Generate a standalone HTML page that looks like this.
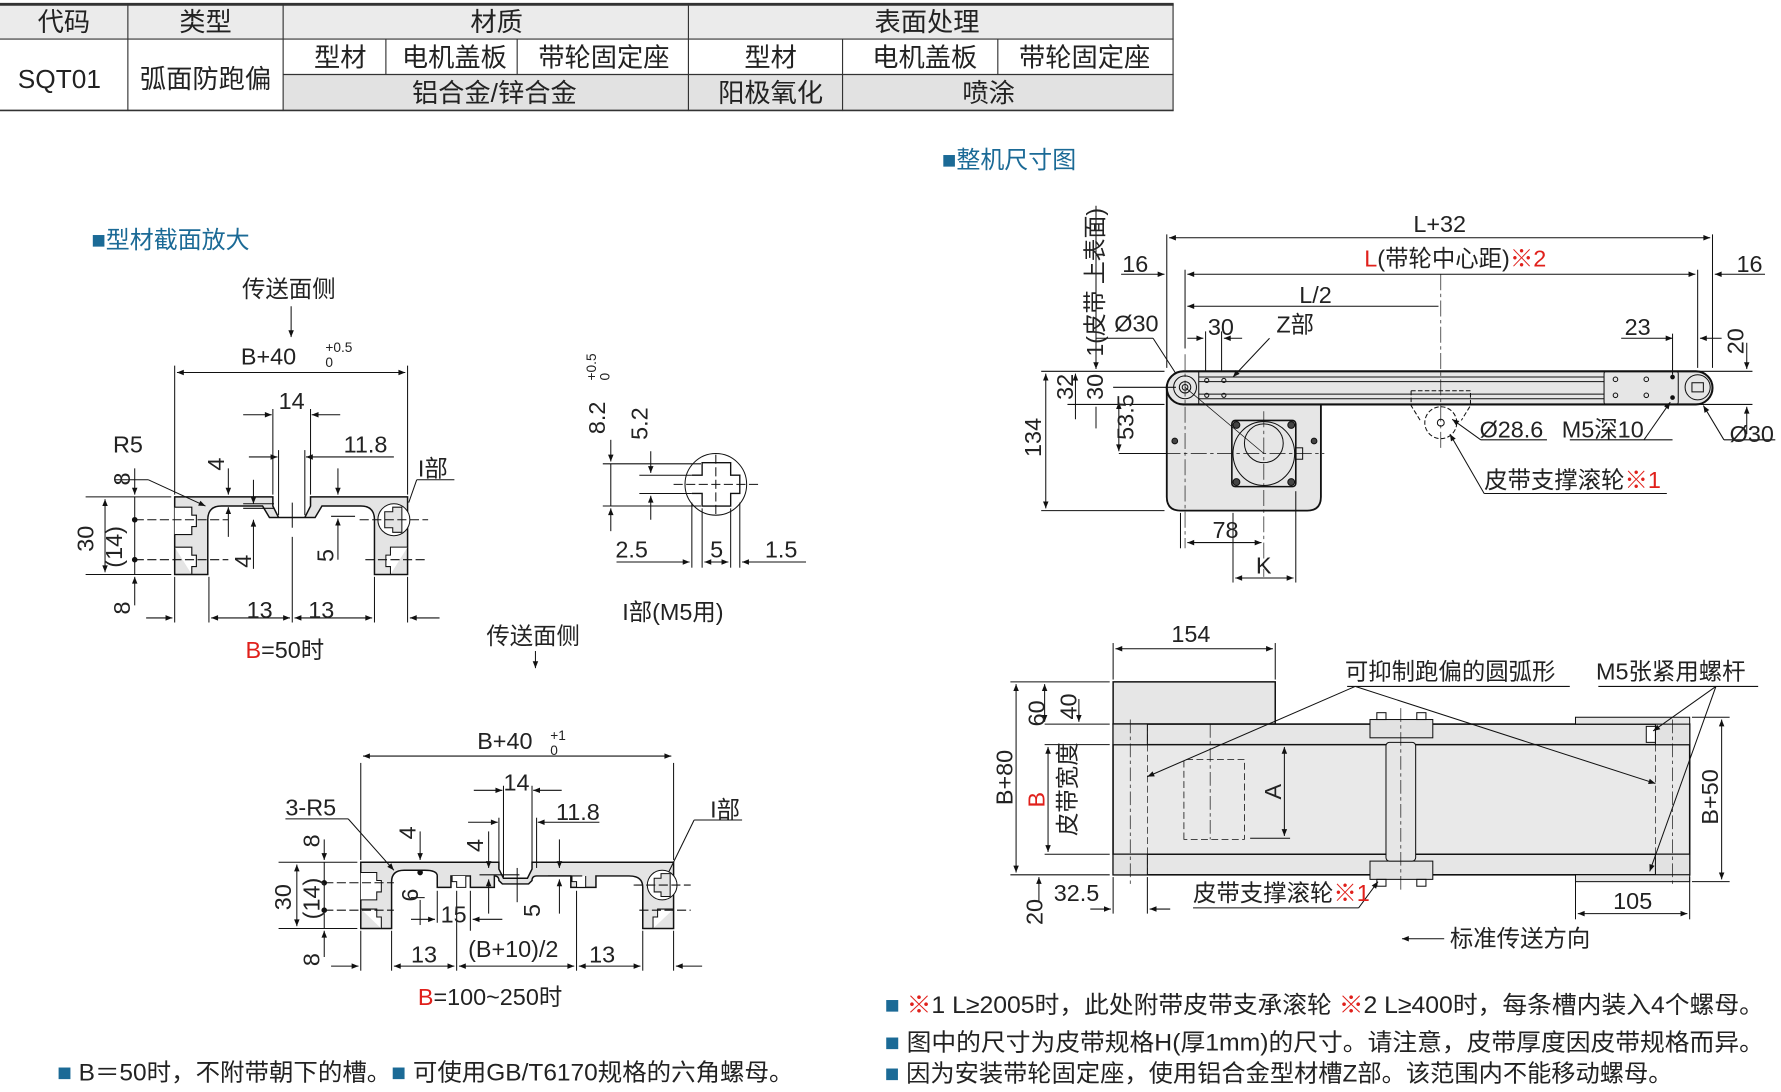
<!DOCTYPE html>
<html><head><meta charset="utf-8"><style>
html,body{margin:0;padding:0;background:#fff;}
svg{display:block;}
text{font-family:"Liberation Sans","Noto Sans CJK SC",sans-serif;fill:#222;}
</style></head><body>
<svg width="1781" height="1092" viewBox="0 0 1560 956" xmlns="http://www.w3.org/2000/svg">
<defs>
<marker id="a" viewBox="0 0 10 10" refX="10" refY="5" markerWidth="9" markerHeight="6" orient="auto-start-reverse" markerUnits="userSpaceOnUse"><path d="M0,1 L10,5 L0,9 Z" fill="#111"/></marker>
</defs>
<!-- TABLE -->
<rect x="0" y="3" width="1028" height="31" fill="#ebebeb"/>
<rect x="248" y="65" width="780" height="31" fill="#e2e2e2"/>
<g stroke="#333" stroke-width="1" fill="none">
<line x1="0" y1="3.5" x2="1028" y2="3.5" stroke-width="2.5"/>
<line x1="0" y1="34" x2="1028" y2="34"/>
<line x1="248" y1="65" x2="1028" y2="65"/>
<line x1="0" y1="96.5" x2="1028" y2="96.5" stroke-width="1.5"/>
<line x1="1027.5" y1="3" x2="1027.5" y2="97"/>
<line x1="112" y1="3" x2="112" y2="97"/><line x1="248" y1="3" x2="248" y2="97"/>
<line x1="603" y1="3" x2="603" y2="97"/>
<line x1="338" y1="34" x2="338" y2="65"/><line x1="453" y1="34" x2="453" y2="65"/>
<line x1="738" y1="34" x2="738" y2="97"/><line x1="874" y1="34" x2="874" y2="65"/>
</g>
<g font-size="23" text-anchor="middle">
<text x="56" y="27">代码</text><text x="180" y="27">类型</text><text x="435" y="27">材质</text><text x="812" y="27">表面处理</text>
<text x="52" y="77">SQT01</text><text x="180" y="77">弧面防跑偏</text>
<text x="298" y="58">型材</text><text x="398" y="58">电机盖板</text><text x="529" y="58">带轮固定座</text>
<text x="675" y="58">型材</text><text x="810" y="58">电机盖板</text><text x="950" y="58">带轮固定座</text>
<text x="433" y="89">铝合金/锌合金</text><text x="675" y="89">阳极氧化</text><text x="866" y="89">喷涂</text>
</g>
<!-- headings -->
<text x="80" y="217" font-size="21" style="fill:#1b6a96">■型材截面放大</text>
<text x="825" y="147" font-size="21" style="fill:#1b6a96">■整机尺寸图</text>

<g stroke="#111" stroke-width="0.9" fill="none">
<!-- LEFT PROFILE B=50 -->
<path d="M153,435 H239 V443 L244,453 H267 L272,443 V435 H357 V503 H328 V455 Q328,443 316,443 H282 L276,453 H236 L230,443 H194 Q182,443 182,455 V503 H153 Z" fill="#e4e4e4" stroke-width="1.3"/>
<path d="M153,444 H168 V451 H172 V461 H168 V468 H153 M153,479 H168 V486 H172 V496 H168 V503" fill="#fff" stroke-width="1"/>
<path d="M357,479 H342 V486 H338 V496 H342 V503" fill="#fff"/>
<circle cx="345" cy="455" r="14" fill="#fff"/>
<path d="M337,448 H344 V444 H352 V466 H344 V462 H337 Z" fill="#e4e4e4"/>
<!-- left dims -->
<line x1="153" y1="320" x2="153" y2="433"/><line x1="357" y1="320" x2="357" y2="433"/>
<line x1="155" y1="326" x2="355" y2="326" marker-start="url(#a)" marker-end="url(#a)"/>
<line x1="239" y1="358" x2="239" y2="433"/><line x1="272" y1="358" x2="272" y2="433"/>
<line x1="213" y1="363" x2="238" y2="363" marker-end="url(#a)"/><line x1="298" y1="363" x2="273" y2="363" marker-end="url(#a)"/>
<line x1="244" y1="394" x2="244" y2="451"/><line x1="267" y1="394" x2="267" y2="451"/>
<line x1="218" y1="400" x2="243" y2="400" marker-end="url(#a)"/><line x1="345" y1="400" x2="268" y2="400" marker-end="url(#a)"/>
<line x1="100" y1="420" x2="130" y2="420"/><line x1="130" y1="420" x2="180" y2="443" marker-end="url(#a)"/>
<line x1="75" y1="435" x2="150" y2="435"/><line x1="75" y1="503" x2="150" y2="503"/>
<line x1="92" y1="437" x2="92" y2="501" marker-start="url(#a)" marker-end="url(#a)"/>
<line x1="118" y1="410" x2="118" y2="433" marker-end="url(#a)"/><line x1="118" y1="530" x2="118" y2="505" marker-end="url(#a)"/>
<line x1="118" y1="435" x2="118" y2="503"/>
<circle cx="118" cy="455" r="2" fill="#111"/><circle cx="118" cy="490" r="2" fill="#111"/>
<line x1="118" y1="455" x2="200" y2="455" stroke-dasharray="8,3"/><line x1="118" y1="490" x2="200" y2="490" stroke-dasharray="8,3"/>
<line x1="315" y1="455" x2="375" y2="455" stroke-dasharray="8,3"/><line x1="320" y1="490" x2="375" y2="490" stroke-dasharray="8,3"/>
<line x1="200" y1="410" x2="200" y2="433" marker-end="url(#a)"/><line x1="200" y1="470" x2="200" y2="444" marker-end="url(#a)"/>
<line x1="222" y1="420" x2="222" y2="441" marker-end="url(#a)"/><line x1="222" y1="498" x2="222" y2="455" marker-end="url(#a)"/>
<line x1="213" y1="441" x2="240" y2="441"/><line x1="213" y1="445" x2="240" y2="445"/>
<line x1="296" y1="410" x2="296" y2="433" marker-end="url(#a)"/><line x1="296" y1="490" x2="296" y2="454" marker-end="url(#a)"/>
<line x1="290" y1="452" x2="311" y2="452"/>
<line x1="256" y1="440" x2="256" y2="462"/>
<line x1="358" y1="440" x2="365" y2="420"/><line x1="365" y1="420" x2="398" y2="420"/>
<line x1="183" y1="505" x2="183" y2="545"/><line x1="153" y1="505" x2="153" y2="545"/><line x1="256" y1="470" x2="256" y2="545"/><line x1="328" y1="505" x2="328" y2="545"/><line x1="357" y1="505" x2="357" y2="545"/>
<line x1="128" y1="541" x2="151" y2="541" marker-end="url(#a)"/><line x1="185" y1="541" x2="254" y2="541" marker-start="url(#a)" marker-end="url(#a)"/>
<line x1="258" y1="541" x2="326" y2="541" marker-start="url(#a)" marker-end="url(#a)"/><line x1="385" y1="541" x2="359" y2="541" marker-end="url(#a)"/>
<line x1="255" y1="268" x2="255" y2="295" marker-end="url(#a)"/>
<!-- I detail -->
<circle cx="627" cy="424" r="27"/>
<path d="M606,416 H615 V405 H640 V416 H648 V432 H640 V443 H615 V432 H606" fill="none" stroke-width="1.2"/>
<line x1="590" y1="424" x2="665" y2="424" stroke-dasharray="8,3"/>
<line x1="627" y1="398" x2="627" y2="450" stroke-dasharray="8,3"/>
<line x1="528" y1="406" x2="614" y2="406"/><line x1="528" y1="443" x2="614" y2="443"/><line x1="560" y1="416" x2="606" y2="416"/><line x1="560" y1="432" x2="606" y2="432"/>
<line x1="535" y1="385" x2="535" y2="404" marker-end="url(#a)"/><line x1="535" y1="465" x2="535" y2="445" marker-end="url(#a)"/><line x1="535" y1="406" x2="535" y2="443"/>
<line x1="570" y1="395" x2="570" y2="414" marker-end="url(#a)"/><line x1="570" y1="455" x2="570" y2="434" marker-end="url(#a)"/>
<line x1="606" y1="440" x2="606" y2="497"/><line x1="615" y1="445" x2="615" y2="497"/><line x1="640" y1="445" x2="640" y2="497"/><line x1="648" y1="440" x2="648" y2="497"/>
<line x1="540" y1="492" x2="604" y2="492" marker-end="url(#a)"/><line x1="617" y1="492" x2="638" y2="492" marker-start="url(#a)" marker-end="url(#a)"/><line x1="706" y1="492" x2="650" y2="492" marker-end="url(#a)"/>

<!-- BOTTOM PROFILE -->
<path d="M316,755 H437 V761 L441,769 H462 L466,761 V755 H590 V813 H563 V777 Q563,767 551,767 H522 V777 H500 V767 H470 Q466,767 466,771 L463,774 H440 L437,771 Q437,767 433,767 V777 H412 V767 H395 V777 H383 V767 Q383,762 372,762 H354 Q343,762 343,772 V813 H316 Z" fill="#e4e4e4" stroke-width="1.3"/>
<path d="M316,764 H330 V771 H334 V781 H330 V788 H316 M316,796 H330 V803 H334 V813" fill="#fff"/>
<path d="M590,796 H576 V803 H572 V813" fill="#fff"/>
<circle cx="580" cy="775" r="13" fill="#fff"/>
<path d="M573,769 H579 V765 H587 V785 H579 V781 H573 Z" fill="#e4e4e4"/>
<path d="M396,767 V772 H400 V777 H408 V767" fill="#fff"/><path d="M501,767 V772 H505 V777 H513 V767" fill="#fff"/>
<line x1="316" y1="668" x2="316" y2="753"/><line x1="590" y1="668" x2="590" y2="753"/>
<line x1="318" y1="662" x2="588" y2="662" marker-start="url(#a)" marker-end="url(#a)"/>
<line x1="441" y1="688" x2="441" y2="768"/><line x1="466" y1="688" x2="466" y2="760"/>
<line x1="415" y1="692" x2="440" y2="692" marker-end="url(#a)"/><line x1="492" y1="692" x2="467" y2="692" marker-end="url(#a)"/>
<line x1="437" y1="716" x2="437" y2="760"/><line x1="470" y1="716" x2="470" y2="760"/>
<line x1="410" y1="720" x2="436" y2="720" marker-end="url(#a)"/><line x1="525" y1="720" x2="471" y2="720" marker-end="url(#a)"/>
<line x1="250" y1="717" x2="305" y2="717"/><line x1="305" y1="717" x2="345" y2="762" marker-end="url(#a)"/>
<line x1="244" y1="755" x2="313" y2="755"/><line x1="244" y1="813" x2="313" y2="813"/>
<line x1="260" y1="757" x2="260" y2="811" marker-start="url(#a)" marker-end="url(#a)"/>
<line x1="284" y1="735" x2="284" y2="753" marker-end="url(#a)"/><line x1="284" y1="838" x2="284" y2="815" marker-end="url(#a)"/><line x1="284" y1="755" x2="284" y2="813"/>
<circle cx="284" cy="773" r="2" fill="#111"/><circle cx="284" cy="797" r="2" fill="#111"/>
<line x1="284" y1="773" x2="345" y2="773" stroke-dasharray="8,3"/><line x1="284" y1="797" x2="345" y2="797" stroke-dasharray="8,3"/>
<line x1="560" y1="797" x2="605" y2="797" stroke-dasharray="8,3"/><line x1="555" y1="775" x2="605" y2="775" stroke-dasharray="8,3"/>
<circle cx="368" cy="764" r="2" fill="#111"/>
<line x1="368" y1="728" x2="368" y2="753" marker-end="url(#a)"/><line x1="368" y1="810" x2="368" y2="788"/>
<line x1="360" y1="786" x2="372" y2="786"/>
<line x1="428" y1="728" x2="428" y2="760" marker-end="url(#a)"/><line x1="428" y1="800" x2="428" y2="770" marker-end="url(#a)"/>
<line x1="420" y1="766" x2="455" y2="766"/>
<line x1="490" y1="735" x2="490" y2="760" marker-end="url(#a)"/><line x1="490" y1="800" x2="490" y2="770" marker-end="url(#a)"/>
<line x1="480" y1="767" x2="510" y2="767"/>
<line x1="453" y1="760" x2="453" y2="790"/>
<line x1="383" y1="780" x2="383" y2="808"/><line x1="412" y1="780" x2="412" y2="815"/>
<line x1="360" y1="805" x2="381" y2="805" marker-end="url(#a)"/><line x1="440" y1="805" x2="414" y2="805" marker-end="url(#a)"/>
<line x1="586" y1="763" x2="608" y2="718"/><line x1="608" y1="718" x2="650" y2="718"/>
<line x1="343" y1="815" x2="343" y2="850"/><line x1="316" y1="815" x2="316" y2="850"/><line x1="400" y1="780" x2="400" y2="850"/><line x1="505" y1="780" x2="505" y2="850"/><line x1="563" y1="815" x2="563" y2="850"/><line x1="590" y1="815" x2="590" y2="850"/>
<line x1="290" y1="846" x2="314" y2="846" marker-end="url(#a)"/><line x1="345" y1="846" x2="398" y2="846" marker-start="url(#a)" marker-end="url(#a)"/>
<line x1="402" y1="846" x2="503" y2="846" marker-start="url(#a)" marker-end="url(#a)"/><line x1="507" y1="846" x2="561" y2="846" marker-start="url(#a)" marker-end="url(#a)"/><line x1="615" y1="846" x2="592" y2="846" marker-end="url(#a)"/>
<line x1="469" y1="570" x2="469" y2="585" marker-end="url(#a)"/>

<!-- SIDE VIEW -->
<path d="M1036,338 H1157 V435 Q1157,447 1145,447 H1034 Q1022,447 1022,435 V338 Z" fill="#e6e6e6" stroke-width="1.6"/>
<rect x="1022" y="325" width="478" height="29" rx="14.5" fill="#e6e6e6" stroke-width="1.8"/>
<line x1="1050" y1="330" x2="1405" y2="330"/><line x1="1050" y1="334" x2="1405" y2="334"/><line x1="1050" y1="345" x2="1405" y2="345"/><line x1="1050" y1="349" x2="1405" y2="349"/>
<line x1="1050" y1="325" x2="1050" y2="354"/>
<rect x="1405" y="325" width="65" height="29" rx="2"/>
<circle cx="1038" cy="339" r="10"/><circle cx="1038" cy="339" r="5"/><circle cx="1038" cy="339" r="2.5"/>
<circle cx="1487" cy="339" r="11"/><rect x="1482" y="335" width="10" height="8"/>
<circle cx="1415" cy="332" r="2"/><circle cx="1415" cy="346" r="2"/><circle cx="1442" cy="332" r="2"/><circle cx="1442" cy="346" r="2"/>
<circle cx="1465" cy="330" r="1.6" fill="#111"/><circle cx="1465" cy="348" r="1.6" fill="#111"/>
<circle cx="1057" cy="333" r="1.8"/><circle cx="1057" cy="346" r="1.8"/><circle cx="1072" cy="333" r="1.8"/><circle cx="1072" cy="346" r="1.8"/>
<rect x="1079" y="368" width="56" height="58" rx="3" stroke-width="1.4"/>
<ellipse cx="1107" cy="397" rx="27" ry="28"/><ellipse cx="1107" cy="388" rx="17" ry="17"/>
<circle cx="1083" cy="372" r="3" fill="#444"/><circle cx="1131" cy="372" r="3" fill="#444"/><circle cx="1083" cy="422" r="3" fill="#444"/><circle cx="1131" cy="422" r="3" fill="#444"/>
<rect x="1135" y="392" width="6" height="10"/>
<circle cx="1029" cy="386" r="2.5" fill="#444"/><circle cx="1151" cy="386" r="2.5" fill="#444"/>
<path d="M1236,342 H1288 V355 L1280,368 M1236,342 V355 L1244,368" stroke-dasharray="4,2"/>
<circle cx="1262" cy="370" r="14" stroke-dasharray="4,2"/><circle cx="1262" cy="370" r="3"/>
<line x1="1262" y1="240" x2="1262" y2="395" stroke-width="0.6" stroke-dasharray="14,3,3,3"/>
<line x1="1038" y1="310" x2="1038" y2="480" stroke-width="0.6" stroke-dasharray="14,3,3,3"/>
<line x1="1107" y1="360" x2="1107" y2="505" stroke-width="0.6" stroke-dasharray="14,3,3,3"/>
<line x1="1020" y1="397" x2="1160" y2="397" stroke-width="0.6" stroke-dasharray="14,3,3,3"/>
<line x1="1038" y1="339" x2="1107" y2="397" stroke-width="0.6"/>
<!-- side dims -->
<line x1="1022" y1="205" x2="1022" y2="322"/><line x1="1500" y1="205" x2="1500" y2="322"/>
<line x1="1024" y1="208" x2="1498" y2="208" marker-start="url(#a)" marker-end="url(#a)"/>
<line x1="1038" y1="236" x2="1038" y2="305"/><line x1="1487" y1="236" x2="1487" y2="322"/>
<line x1="1040" y1="240" x2="1485" y2="240" marker-start="url(#a)" marker-end="url(#a)"/>
<line x1="982" y1="240" x2="1020" y2="240" marker-end="url(#a)"/><line x1="1546" y1="240" x2="1502" y2="240" marker-end="url(#a)"/>
<line x1="1040" y1="268" x2="1260" y2="268" marker-start="url(#a)"/>
<line x1="1056" y1="290" x2="1056" y2="325"/><line x1="1070" y1="290" x2="1070" y2="325"/>
<line x1="1040" y1="296" x2="1054" y2="296" marker-end="url(#a)"/><line x1="1088" y1="296" x2="1072" y2="296" marker-end="url(#a)"/>
<line x1="1112" y1="296" x2="1080" y2="330" marker-end="url(#a)"/>
<line x1="1010" y1="296" x2="1030" y2="327"/>
<line x1="960" y1="296" x2="1010" y2="296"/>
<line x1="1420" y1="296" x2="1465" y2="296" marker-end="url(#a)"/><line x1="1465" y1="292" x2="1465" y2="328"/><line x1="1508" y1="296" x2="1489" y2="296" marker-end="url(#a)"/>
<line x1="1476" y1="325" x2="1535" y2="325"/><line x1="1476" y1="354" x2="1535" y2="354"/>
<line x1="1530" y1="300" x2="1530" y2="323" marker-end="url(#a)"/><line x1="1530" y1="380" x2="1530" y2="356" marker-end="url(#a)"/>
<line x1="912" y1="325" x2="1020" y2="325"/><line x1="912" y1="447" x2="1020" y2="447"/>
<line x1="916" y1="327" x2="916" y2="445" marker-start="url(#a)" marker-end="url(#a)"/>
<line x1="942" y1="327" x2="942" y2="367" marker-start="url(#a)"/><line x1="935" y1="354" x2="1020" y2="354"/>
<line x1="960" y1="180" x2="960" y2="323" marker-end="url(#a)"/><line x1="960" y1="356" x2="960" y2="375"/>
<line x1="975" y1="339" x2="1030" y2="339"/><line x1="980" y1="397" x2="1022" y2="397"/>
<line x1="980" y1="352" x2="980" y2="395" marker-start="url(#a)" marker-end="url(#a)"/>
<line x1="1034" y1="449" x2="1034" y2="480"/>
<line x1="1040" y1="475" x2="1105" y2="475" marker-start="url(#a)" marker-end="url(#a)"/>
<line x1="1080" y1="449" x2="1080" y2="510"/><line x1="1135" y1="430" x2="1135" y2="510"/>
<line x1="1082" y1="506" x2="1133" y2="506" marker-start="url(#a)" marker-end="url(#a)"/>
<line x1="1297" y1="385" x2="1272" y2="367" marker-end="url(#a)"/><line x1="1297" y1="385" x2="1355" y2="385"/>
<line x1="1375" y1="385" x2="1465" y2="385"/><line x1="1440" y1="385" x2="1463" y2="352" marker-end="url(#a)"/>
<line x1="1510" y1="385" x2="1555" y2="385"/><line x1="1510" y1="385" x2="1492" y2="355" marker-end="url(#a)"/>
<line x1="1300" y1="432" x2="1460" y2="432"/><line x1="1300" y1="432" x2="1270" y2="380" marker-end="url(#a)"/>

<!-- TOP VIEW -->
<rect x="975" y="597" width="142" height="37" fill="#e6e6e6" stroke-width="1.3"/>
<rect x="975" y="634" width="505" height="132" fill="#e6e6e6" stroke-width="1.4"/>
<rect x="975" y="652" width="505" height="96" fill="#e9e9e9" stroke-width="1.3"/>
<rect x="975" y="634" width="30" height="18" fill="#e2e2e2"/><rect x="975" y="748" width="30" height="18" fill="#e2e2e2"/>
<rect x="1450" y="634" width="30" height="18" fill="#e2e2e2"/><rect x="1450" y="748" width="30" height="18" fill="#e2e2e2"/>
<rect x="1380" y="628" width="100" height="6" fill="#e6e6e6"/><rect x="1380" y="766" width="100" height="6" fill="#e6e6e6"/>
<rect x="1442" y="636" width="8" height="14" fill="#fff"/>
<rect x="1200" y="630" width="55" height="16" fill="#e2e2e2"/><rect x="1200" y="754" width="55" height="16" fill="#e2e2e2"/>
<rect x="1214" y="650" width="26" height="104" rx="3" fill="#e6e6e6"/>
<rect x="1206" y="624" width="8" height="6"/><rect x="1241" y="624" width="8" height="6"/><rect x="1206" y="770" width="8" height="6"/><rect x="1241" y="770" width="8" height="6"/>
<line x1="1227" y1="620" x2="1227" y2="780" stroke-width="0.6" stroke-dasharray="12,3,3,3"/>
<line x1="990" y1="630" x2="990" y2="775" stroke-width="0.6" stroke-dasharray="12,3,3,3"/>
<line x1="1465" y1="630" x2="1465" y2="775" stroke-width="0.6" stroke-dasharray="12,3,3,3"/>
<line x1="1005" y1="634" x2="1005" y2="766" stroke-width="0.6" stroke-dasharray="6,3"/>
<line x1="1450" y1="634" x2="1450" y2="766" stroke-width="0.6" stroke-dasharray="6,3"/>
<path d="M1037,735 V665 H1090 V735 Z" stroke-dasharray="6,3" stroke-width="0.7"/>
<line x1="1060" y1="634" x2="1060" y2="735" stroke-width="0.6" stroke-dasharray="12,3,3,3"/>
<line x1="1125" y1="654" x2="1125" y2="732" marker-start="url(#a)" marker-end="url(#a)"/><line x1="1095" y1="734" x2="1130" y2="734"/>
<line x1="975" y1="563" x2="975" y2="595"/><line x1="1117" y1="563" x2="1117" y2="595"/>
<line x1="977" y1="568" x2="1115" y2="568" marker-start="url(#a)" marker-end="url(#a)"/>
<line x1="885" y1="597" x2="972" y2="597"/><line x1="885" y1="766" x2="972" y2="766"/>
<line x1="890" y1="599" x2="890" y2="764" marker-start="url(#a)" marker-end="url(#a)"/>
<line x1="915" y1="599" x2="915" y2="632" marker-start="url(#a)" marker-end="url(#a)"/>
<line x1="945" y1="612" x2="945" y2="632" marker-end="url(#a)"/>
<line x1="915" y1="634" x2="972" y2="634"/><line x1="915" y1="652" x2="972" y2="652"/><line x1="915" y1="748" x2="972" y2="748"/>
<line x1="918" y1="654" x2="918" y2="746" marker-start="url(#a)" marker-end="url(#a)"/>
<line x1="910" y1="790" x2="910" y2="768" marker-end="url(#a)"/>
<line x1="975" y1="768" x2="975" y2="800"/><line x1="1005" y1="768" x2="1005" y2="800"/>
<line x1="955" y1="796" x2="973" y2="796" marker-end="url(#a)"/><line x1="1025" y1="796" x2="1007" y2="796" marker-end="url(#a)"/>
<line x1="1380" y1="772" x2="1380" y2="805"/><line x1="1480" y1="768" x2="1480" y2="805"/>
<line x1="1382" y1="800" x2="1478" y2="800" marker-start="url(#a)" marker-end="url(#a)"/>
<line x1="1482" y1="628" x2="1515" y2="628"/><line x1="1482" y1="772" x2="1515" y2="772"/>
<line x1="1508" y1="630" x2="1508" y2="770" marker-start="url(#a)" marker-end="url(#a)"/>
<line x1="1180" y1="601" x2="1375" y2="601"/>
<line x1="1187" y1="601" x2="1005" y2="680" marker-end="url(#a)"/><line x1="1187" y1="601" x2="1450" y2="686" marker-end="url(#a)"/>
<line x1="1400" y1="601" x2="1540" y2="601"/>
<line x1="1503" y1="601" x2="1448" y2="640" marker-end="url(#a)"/><line x1="1503" y1="601" x2="1445" y2="763" marker-end="url(#a)"/>
<line x1="1045" y1="795" x2="1190" y2="795"/><line x1="1190" y1="795" x2="1207" y2="772" marker-end="url(#a)"/>
<line x1="1265" y1="822" x2="1228" y2="822" marker-end="url(#a)"/>
</g>

<!-- LABELS -->
<g font-size="20.5">
<text x="212" y="260">传送面侧</text>
<text x="211" y="319">B+40</text><text x="285" y="308" font-size="12">+0.5</text><text x="285" y="321" font-size="12">0</text>
<text x="244" y="358">14</text><text x="301" y="396">11.8</text>
<text x="99" y="396">R5</text><text x="366" y="417">I部</text>
<text x="216" y="541">13</text><text x="270" y="541">13</text>
<text x="215" y="576"><tspan style="fill:#e0201b">B</tspan>=50时</text>
<text x="545" y="543">I部(M5用)</text>
<text x="426" y="564">传送面侧</text>
<text x="539" y="488">2.5</text><text x="622" y="488">5</text><text x="670" y="488">1.5</text>
<text x="418" y="656">B+40</text><text x="482" y="648" font-size="12">+1</text><text x="482" y="661" font-size="12">0</text>
<text x="441" y="692">14</text><text x="487" y="718">11.8</text>
<text x="250" y="714">3-R5</text><text x="622" y="716">I部</text>
<text x="386" y="808">15</text>
<text x="360" y="843">13</text><text x="410" y="838">(B+10)/2</text><text x="516" y="843">13</text>
<text x="366" y="880"><tspan style="fill:#e0201b">B</tspan>=100~250时</text>
<text x="1238" y="203">L+32</text>
<text x="1195" y="233"><tspan style="fill:#e0201b">L</tspan>(带轮中心距)<tspan style="fill:#e0201b">※2</tspan></text>
<text x="983" y="238">16</text><text x="1521" y="238">16</text>
<text x="1138" y="265">L/2</text><text x="1058" y="293">30</text><text x="1118" y="291">Z部</text>
<text x="976" y="290">Ø30</text><text x="1423" y="293">23</text>
<text x="1296" y="383">Ø28.6</text><text x="1368" y="383">M5深10</text><text x="1515" y="387">Ø30</text>
<text x="1300" y="427">皮带支撑滚轮<tspan style="fill:#e0201b">※1</tspan></text>
<text x="1062" y="471">78</text><text x="1100" y="502">K</text>
<text x="1026" y="562">154</text>
<text x="1178" y="595">可抑制跑偏的圆弧形</text><text x="1398" y="595">M5张紧用螺杆</text>
<text x="1045" y="789">皮带支撑滚轮<tspan style="fill:#e0201b">※1</tspan></text>
<text x="923" y="789">32.5</text><text x="1413" y="796">105</text>
<text x="1270" y="829">标准传送方向</text>
</g>
<g font-size="20.5">
<text transform="translate(82,483) rotate(-90)">30</text>
<text transform="translate(107,497) rotate(-90)">(14)</text>
<text transform="translate(114,425) rotate(-90)">8</text><text transform="translate(114,538) rotate(-90)">8</text>
<text transform="translate(196,412) rotate(-90)">4</text><text transform="translate(220,497) rotate(-90)">4</text>
<text transform="translate(292,492) rotate(-90)">5</text>
<text transform="translate(530,380) rotate(-90)">8.2</text><text transform="translate(522,333) rotate(-90)" font-size="12">+0.5</text><text transform="translate(534,333) rotate(-90)" font-size="12">0</text>
<text transform="translate(567,385) rotate(-90)">5.2</text>
<text transform="translate(255,797) rotate(-90)">30</text><text transform="translate(280,805) rotate(-90)">(14)</text>
<text transform="translate(280,742) rotate(-90)">8</text><text transform="translate(280,846) rotate(-90)">8</text>
<text transform="translate(364,735) rotate(-90)">4</text><text transform="translate(423,746) rotate(-90)">4</text>
<text transform="translate(352,778) rotate(90)">9</text><text transform="translate(473,803) rotate(-90)">5</text>
<text transform="translate(912,400) rotate(-90)">134</text>
<text transform="translate(940,350) rotate(-90)">32</text><text transform="translate(966,350) rotate(-90)">30</text>
<text transform="translate(993,385) rotate(-90)">53.5</text>
<text transform="translate(966,312) rotate(-90)" textLength="130" lengthAdjust="spacingAndGlyphs">1(皮带 上表面)</text>
<text transform="translate(1527,310) rotate(-90)">20</text>
<text transform="translate(887,705) rotate(-90)">B+80</text>
<text transform="translate(915,636) rotate(-90)">60</text><text transform="translate(943,630) rotate(-90)">40</text>
<text transform="translate(915,707) rotate(-90)" style="fill:#e0201b">B</text>
<text transform="translate(942,732) rotate(-90)">皮带宽度</text>
<text transform="translate(1122,700) rotate(-90)">A</text>
<text transform="translate(1505,722) rotate(-90)">B+50</text>
<text transform="translate(913,810) rotate(-90)">20</text>
</g>
<g font-size="21">
<text x="50" y="946" textLength="645" lengthAdjust="spacingAndGlyphs"><tspan style="fill:#1b6a96">■</tspan> B＝50时，不附带朝下的槽。<tspan style="fill:#1b6a96">■</tspan> 可使用GB/T6170规格的六角螺母。</text>
<text x="775" y="887" textLength="770" lengthAdjust="spacingAndGlyphs"><tspan style="fill:#1b6a96">■</tspan> <tspan style="fill:#e0201b">※</tspan>1 L≥2005时，此处附带皮带支承滚轮 <tspan style="fill:#e0201b">※</tspan>2 L≥400时，每条槽内装入4个螺母。</text>
<text x="775" y="920" textLength="770" lengthAdjust="spacingAndGlyphs"><tspan style="fill:#1b6a96">■</tspan> 图中的尺寸为皮带规格H(厚1mm)的尺寸。请注意，皮带厚度因皮带规格而异。</text>
<text x="775" y="947" textLength="690" lengthAdjust="spacingAndGlyphs"><tspan style="fill:#1b6a96">■</tspan> 因为安装带轮固定座，使用铝合金型材槽Z部。该范围内不能移动螺母。</text>
</g>
</svg>
</body></html>
